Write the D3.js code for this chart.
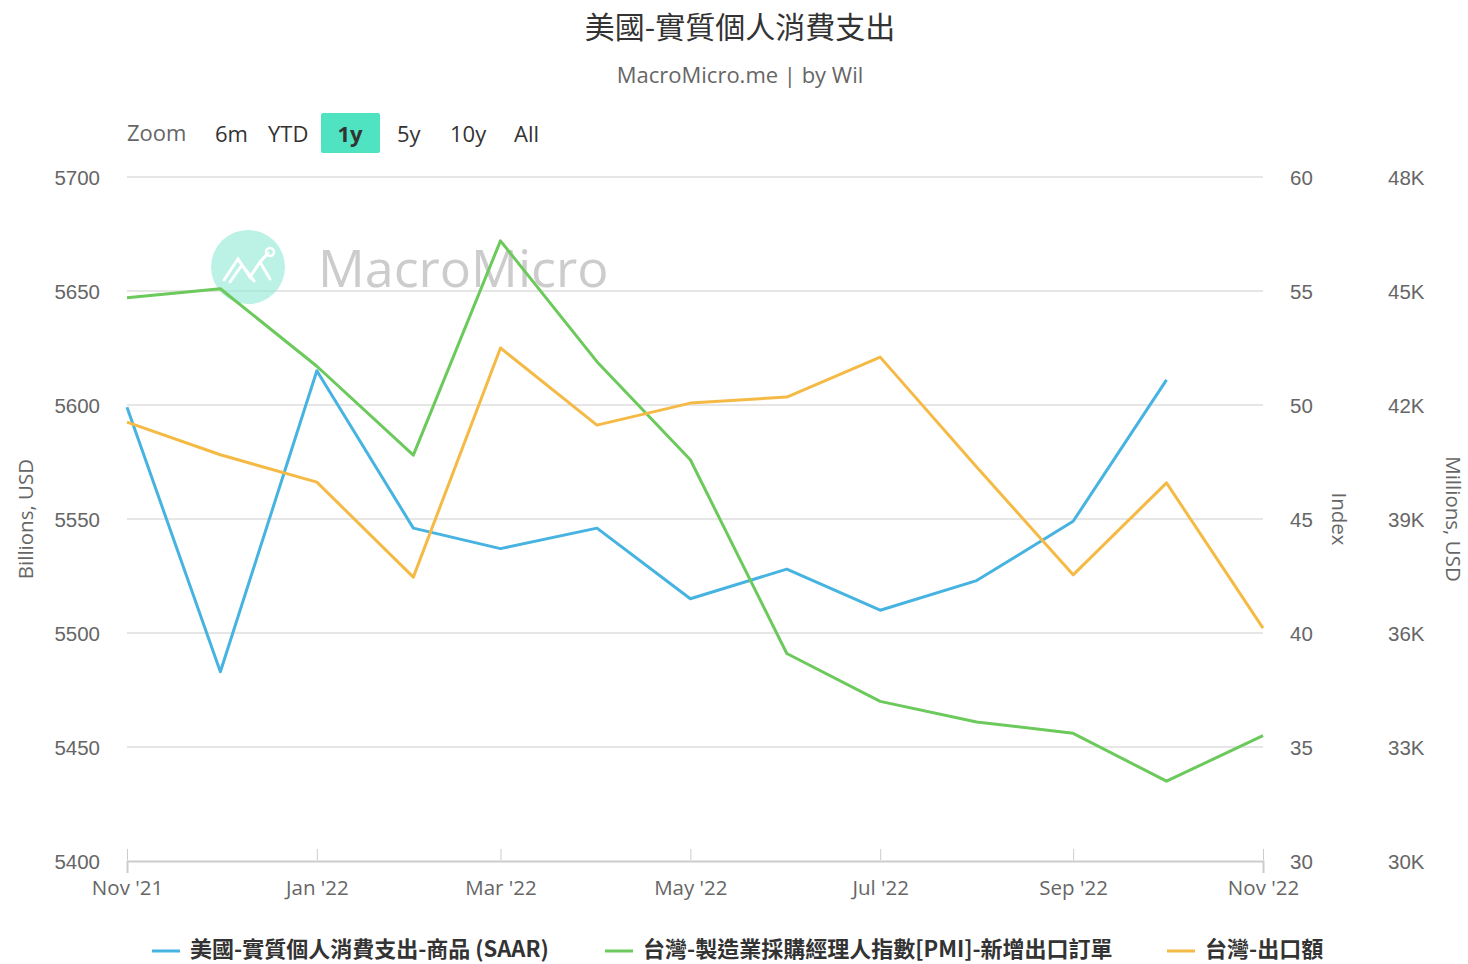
<!DOCTYPE html>
<html>
<head>
<meta charset="utf-8">
<script src="https://cdn.jsdelivr.net/npm/d3@7"></script>
<style>
  body { margin: 0; background: #fff; }
  svg { font-family: "Open Sans", "Noto Sans", "Noto Sans CJK TC", sans-serif; }
</style>
</head>
<body>
<div id="chart"></div>
<script>
// monthly dates
var months = ["2021-11-01","2021-12-01","2022-01-01","2022-02-01","2022-03-01","2022-04-01",
              "2022-05-01","2022-06-01","2022-07-01","2022-08-01","2022-09-01","2022-10-01","2022-11-01"];

// US real PCE goods (SAAR), billions USD
var pceGoods = [5599, 5483, 5615, 5546, 5537, 5546, 5515, 5528, 5510, 5523, 5549, 5611, null];
// Taiwan manufacturing PMI - new export orders
var pmiExport = [54.7, 55.1, 51.7, 47.8, 57.2, 51.9, 47.6, 39.1, 37.0, 36.1, 35.6, 33.5, 35.5];
// Taiwan exports, millions USD
var twExports = [41550, 40690, 39970, 37470, 43500, 41470, 42050, 42210, 43260, 40370, 37530, 39950, 36130];

var leftTicks = [5400, 5450, 5500, 5550, 5600, 5650, 5700];
var indexTicks = [30, 35, 40, 45, 50, 55, 60];
var millTicks = [30000, 33000, 36000, 39000, 42000, 45000, 48000];
var xTicks = ["2021-11-01","2022-01-01","2022-03-01","2022-05-01","2022-07-01","2022-09-01","2022-11-01"];

var zoomButtons = ["6m", "YTD", "1y", "5y", "10y", "All"];
var legendNames = ["美國-實質個人消費支出-商品 (SAAR)", "台灣-製造業採購經理人指數[PMI]-新增出口訂單", "台灣-出口額"];
var colors = ["#46b3e0", "#6cc95c", "#f5ba45"];

var svgW = 1468, svgH = 964;
var margin = { left: 127, right: 205, top: 177, bottom: 103 };
var chartW = svgW - margin.left - margin.right;
var chartH = svgH - margin.top - margin.bottom;

var parse = d3.timeParse("%Y-%m-%d");
var dates = months.map(parse);

var svg = d3.select("#chart").append("svg")
    .attr("width", svgW).attr("height", svgH);

// title
svg.append("text").attr("x", 740).attr("y", 38).attr("text-anchor", "middle")
   .attr("font-size", 30).attr("fill", "#333")
   .attr("font-family", "'Noto Sans CJK TC', sans-serif")
   .text("美國-實質個人消費支出");
svg.append("text").attr("x", 740).attr("y", 83).attr("text-anchor", "middle")
   .attr("font-size", 22).attr("fill", "#666")
   .text("MacroMicro.me | by Wil");

// range selector
svg.append("text").attr("x", 127).attr("y", 141).attr("font-size", 22).attr("fill", "#666").text("Zoom");
var btnX = [215, 268, 321, 397, 450, 514];
svg.append("rect").attr("x", 321).attr("y", 113).attr("width", 59).attr("height", 40)
   .attr("rx", 2).attr("fill", "#4fe3c1");
zoomButtons.forEach(function(b, i) {
    svg.append("text")
       .attr("x", i == 2 ? 350 : btnX[i])
       .attr("y", 142)
       .attr("text-anchor", i == 2 ? "middle" : "start")
       .attr("font-size", 22)
       .attr("font-weight", i == 2 ? "bold" : "normal")
       .attr("fill", "#333")
       .text(b);
});

var g = svg.append("g").attr("transform", `translate(${margin.left}, ${margin.top})`);

var xScale = d3.scaleTime().domain([parse("2021-11-01"), parse("2022-11-01")]).range([0, chartW]);
var yLeft = d3.scaleLinear().domain([5400, 5700]).range([chartH, 0]);
var yIndex = d3.scaleLinear().domain([30, 60]).range([chartH, 0]);
var yMill = d3.scaleLinear().domain([30000, 48000]).range([chartH, 0]);

// grid
g.selectAll(".grid").data(leftTicks.slice(1)).enter().append("line")
 .attr("x1", 0).attr("x2", chartW)
 .attr("y1", d => yLeft(d)).attr("y2", d => yLeft(d))
 .attr("stroke", "#e6e6e6").attr("stroke-width", 2);

// watermark
var wm = g.append("g").attr("transform", "translate(121, 90)");
wm.append("circle").attr("r", 37).attr("fill", "#8ee9d4").attr("opacity", 0.6);
wm.append("path").attr("d", "M-24,13 L-10,-8 L2,10 L12,-5 L22,12 M-18,15 L-6,-2 L6,14 M12,-5 L20,-14")
  .attr("fill", "none").attr("stroke", "#fff").attr("stroke-width", 3).attr("stroke-linecap", "round");
wm.append("circle").attr("cx", 22).attr("cy", -15).attr("r", 4).attr("fill", "none").attr("stroke", "#fff").attr("stroke-width", 2.5);
g.append("text").attr("x", 191).attr("y", 110).attr("font-size", 52).attr("fill", "#bbb")
 .attr("opacity", 0.75).text("MacroMicro");

// x axis
var xAxis = d3.axisBottom(xScale)
    .tickValues(xTicks.map(parse))
    .tickSize(12)
    .tickFormat(d3.timeFormat("%b '%y"));
var xg = g.append("g").attr("transform", `translate(0, ${chartH})`).call(xAxis);
xg.select(".domain").attr("stroke", "#ccc").attr("stroke-width", 2);
xg.selectAll(".tick line").attr("stroke", "#ccc").attr("transform", "translate(0,-12)").attr("y2", 11);
xg.selectAll("text").attr("font-size", 20.5).attr("fill", "#666").attr("dy", 0).attr("y", 34)
  .attr("font-family", "'Open Sans', sans-serif");

// left axis
var lg = g.append("g").call(d3.axisLeft(yLeft).tickValues(leftTicks).tickSize(0).tickPadding(27).tickFormat(d3.format("d")));
lg.select(".domain").remove();
lg.selectAll("text").attr("font-size", 20.5).attr("fill", "#666").attr("dy", 7);
svg.append("text").attr("transform", "translate(33, 519) rotate(-90)").attr("text-anchor", "middle")
   .attr("font-size", 20.5).attr("fill", "#666").text("Billions, USD");

// index axis
var ig = g.append("g").attr("transform", `translate(${chartW}, 0)`)
   .call(d3.axisRight(yIndex).tickValues(indexTicks).tickSize(0).tickPadding(27));
ig.select(".domain").remove();
ig.selectAll("text").attr("font-size", 20.5).attr("fill", "#666").attr("dy", 7);
svg.append("text").attr("transform", "translate(1332, 519) rotate(90)").attr("text-anchor", "middle")
   .attr("font-size", 20.5).attr("fill", "#666").text("Index");

// millions axis
var mg = g.append("g").attr("transform", `translate(${chartW + 125}, 0)`)
   .call(d3.axisRight(yMill).tickValues(millTicks).tickSize(0).tickPadding(0)
   .tickFormat(d => (d / 1000) + "K"));
mg.select(".domain").remove();
mg.selectAll("text").attr("font-size", 20.5).attr("fill", "#666").attr("dy", 7);
svg.append("text").attr("transform", "translate(1446, 519) rotate(90)").attr("text-anchor", "middle")
   .attr("font-size", 20.5).attr("fill", "#666").text("Millions, USD");

// lines
var series = [
    { vals: pceGoods, y: yLeft },
    { vals: pmiExport, y: yIndex },
    { vals: twExports, y: yMill }
];
series.forEach(function(s, i) {
    var line = d3.line()
        .defined(d => d != null)
        .x((d, j) => xScale(dates[j]))
        .y(d => s.y(d));
    g.append("path").datum(s.vals)
     .attr("d", line)
     .attr("fill", "none")
     .attr("stroke", colors[i])
     .attr("stroke-width", 3)
     .attr("stroke-linejoin", "round");
});

// legend
var legX = [152, 605, 1167];
legendNames.forEach(function(n, i) {
    svg.append("line").attr("x1", legX[i]).attr("x2", legX[i] + 28)
       .attr("y1", 951).attr("y2", 951).attr("stroke", colors[i]).attr("stroke-width", 3);
    svg.append("text").attr("x", legX[i] + 38).attr("y", 957)
       .attr("font-size", 22).attr("font-weight", "bold").attr("fill", "#333")
       .attr("font-family", "'Noto Sans CJK TC', sans-serif")
       .text(n);
});
</script>
</body>
</html>
